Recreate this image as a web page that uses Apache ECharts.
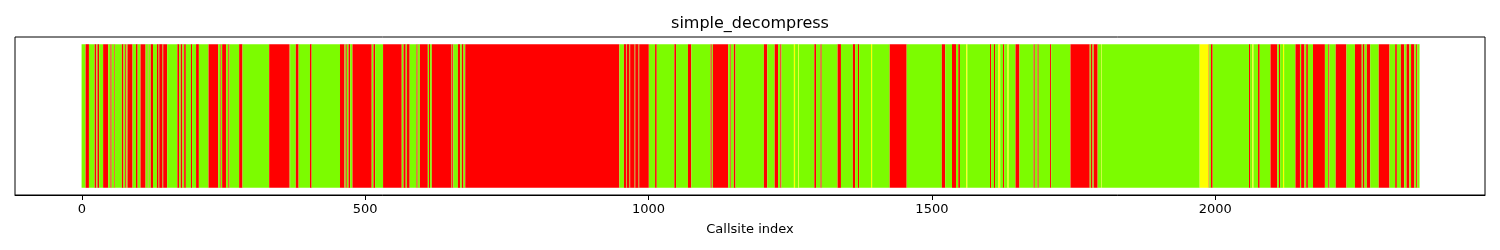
<!DOCTYPE html>
<html>
<head>
<meta charset="utf-8">
<script src="https://cdn.jsdelivr.net/npm/echarts@6/dist/echarts.min.js"></script>
<style>
  html, body { margin: 0; padding: 0; background: #fff; }
  #chart { width: 1500px; height: 250px; }
</style>
</head>
<body>
<div id="chart"></div>
<script>
// end index (exclusive) of each run of callsites, runs start where the previous one ended
var runEnds = [
  7,13,23,26,28,31,38,47,51,53,58,59,71,74,77,79,81,90,96,99,104,113,117,118,122,126,133,136,137,143,144,151,169,172,175,178,181,184,193,
  195,202,207,224,241,245,246,248,255,259,261,278,284,331,366,367,368,378,383,403,
  406,456,464,466,468,471,474,478,512,515,518,532,565,568,572,574,579,591,
  593,597,611,613,615,618,653,654,656,664,668,671,674,677,949,957,961,962,967,968,976,977,983,984,1001,
  1012,1015,1046,1049,1070,1076,1110,1112,1114,1141,1145,1146,1151,1154,1204,1210,1223,1229,1233,1235,
  1257,1259,1265,1266,1293,1296,1304,1306,1334,1340,1361,1365,1370,1372,1393,1395,1426,1456,
  1518,1524,1536,1543,1547,1550,1561,1563,1603,1605,1610,1612,1618,1621,1626,1628,1634,1636,1648,1655,
  1680,1682,1687,1689,1709,1711,1745,1779,1781,1784,1786,1793,1799,1800,1973,1989,1990,1993,1996,
  2060,2062,2066,2068,2076,2079,2098,2110,2113,2115,2120,2122,2142,2150,2152,2158,2161,2164,2173,
  2194,2200,2202,2213,2232,2247,2259,2261,2264,2268,2274,2289,2308,2318,2321,2328,2334,2338,2343,2346,2352,2355,2357,2361
];
// state of each run: G / R / Y
var runStates = [
  'GRGRGRGRGRGRGRGRGRGRGRGRGRGRGRGRGRGRGRG',
  'RGRGRGRGRGRGRGRGRGRG',
  'RGRGRGRGRGRGRGRGRG',
  'RGRGRGRGRGRGRGRGRGRGRGRGR',
  'GRGRGRGRGRGRGRGRGRGR',
  'GYGYGRGRGRGRGRGYGR',
  'GRGRGRGYGRGRGYGRGYGR',
  'GRGRGRGRGRGRGYGYRGR',
  'GRGYGRGRGRGYGRGRGRG',
  'RGRGRGRGRGRGRGRGRGRGRGRG'
].join('').split('');
var tickValues = [0, 500, 1000, 1500, 2000];

var stateColor = { G: '#7CFC00', R: '#FF0000', Y: '#FFFF00' };
var stateCode = { G: 0, R: 1, Y: 2 };
var codeColor = [stateColor.G, stateColor.R, stateColor.Y];

var runs = [];
var start = 0;
for (var i = 0; i < runEnds.length; i++) {
  runs.push([start - 0.5, runEnds[i] - 0.5, stateCode[runStates[i]]]);
  start = runEnds[i];
}

var chart = echarts.init(document.getElementById('chart'));
var font = 'DejaVu Sans';

var option = {
  animation: false,
  title: {
    text: 'simple_decompress',
    left: 'center',
    top: 11,
    textStyle: { fontFamily: font, fontSize: 16, fontWeight: 'normal', color: '#000' }
  },
  grid: {
    left: 15, right: 15, top: 37, bottom: 55,
    show: true, borderColor: '#000', borderWidth: 1, backgroundColor: 'transparent'
  },
  xAxis: {
    type: 'value',
    min: -118,
    max: 2476,
    name: 'Callsite index',
    nameLocation: 'middle',
    nameGap: 28,
    nameTextStyle: { fontFamily: font, fontSize: 13, color: '#000' },
    axisLine: { show: true, onZero: false, lineStyle: { color: '#000', width: 1 } },
    axisTick: { show: true, length: 5, lineStyle: { color: '#000' }, customValues: tickValues },
    axisLabel: {
      fontFamily: font, fontSize: 13, color: '#000', margin: 8, customValues: tickValues,
      formatter: function (v) { return String(v); }
    },
    splitLine: { show: false }
  },
  yAxis: {
    type: 'value',
    min: -0.05,
    max: 1.05,
    show: false
  },
  series: [{
    type: 'custom',
    data: runs,
    encode: { x: [0, 1] },
    renderItem: function (params, api) {
      var a = api.coord([api.value(0), 1]);
      var b = api.coord([api.value(1), 0]);
      return {
        type: 'rect',
        shape: { x: a[0], y: a[1], width: b[0] - a[0], height: b[1] - a[1] },
        style: { fill: codeColor[api.value(2)] }
      };
    }
  }]
};

chart.setOption(option);
</script>
</body>
</html>
